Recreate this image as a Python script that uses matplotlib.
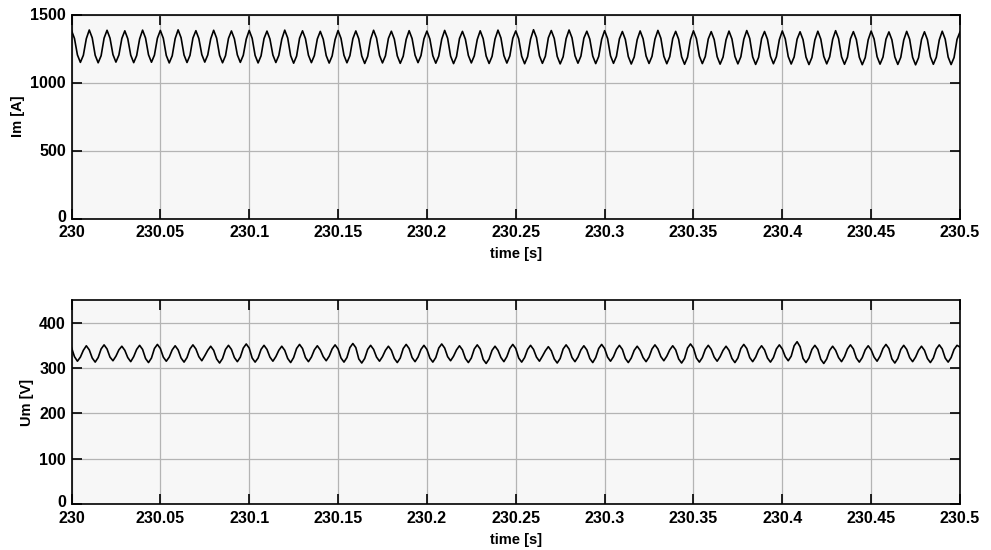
import numpy as np
import matplotlib
matplotlib.use("Agg")
import matplotlib.pyplot as plt
import matplotlib.transforms as mtransforms

plt.rcParams['font.family'] = ['Liberation Sans', 'DejaVu Sans']

im_values = [
    1382, 1324, 1203, 1148, 1200, 1322,
    1386, 1328, 1200, 1145, 1197, 1326,
    1384, 1326, 1205, 1150, 1202, 1324,
    1380, 1322, 1201, 1146, 1198, 1320,
    1385, 1327, 1204, 1149, 1201, 1325,
    1383, 1325, 1199, 1144, 1196, 1323,
    1387, 1329, 1202, 1147, 1199, 1327,
    1381, 1323, 1205, 1150, 1202, 1321,
    1384, 1326, 1200, 1145, 1197, 1324,
    1379, 1321, 1203, 1148, 1200, 1319,
    1383, 1325, 1199, 1144, 1196, 1323,
    1378, 1320, 1202, 1147, 1199, 1318,
    1385, 1327, 1197, 1142, 1194, 1325,
    1380, 1322, 1201, 1146, 1198, 1320,
    1376, 1318, 1198, 1143, 1195, 1316,
    1382, 1324, 1200, 1145, 1197, 1322,
    1379, 1321, 1195, 1140, 1192, 1319,
    1384, 1326, 1199, 1144, 1196, 1324,
    1377, 1319, 1196, 1141, 1193, 1317,
    1381, 1323, 1201, 1146, 1198, 1321,
    1378, 1320, 1197, 1142, 1194, 1318,
    1383, 1325, 1194, 1139, 1191, 1323,
    1376, 1318, 1199, 1144, 1196, 1316,
    1380, 1322, 1195, 1140, 1192, 1320,
    1385, 1327, 1198, 1143, 1195, 1325,
    1379, 1321, 1193, 1138, 1190, 1319,
    1388, 1330, 1196, 1141, 1193, 1328,
    1382, 1324, 1192, 1137, 1189, 1322,
    1386, 1328, 1197, 1142, 1194, 1326,
    1377, 1319, 1194, 1139, 1191, 1317,
    1381, 1323, 1196, 1141, 1193, 1321,
    1375, 1317, 1191, 1136, 1188, 1315,
    1379, 1321, 1195, 1140, 1192, 1319,
    1383, 1325, 1193, 1138, 1190, 1323,
    1376, 1318, 1189, 1134, 1186, 1316,
    1380, 1322, 1194, 1139, 1191, 1320,
    1374, 1316, 1190, 1135, 1187, 1314,
    1378, 1320, 1192, 1137, 1189, 1318,
    1382, 1324, 1188, 1133, 1185, 1322,
    1375, 1317, 1193, 1138, 1190, 1315,
    1379, 1321, 1191, 1136, 1188, 1319,
    1373, 1315, 1187, 1132, 1184, 1313,
    1377, 1319, 1192, 1137, 1189, 1317,
    1381, 1323, 1189, 1134, 1186, 1321,
    1374, 1316, 1186, 1131, 1183, 1314,
    1378, 1320, 1190, 1135, 1187, 1318,
    1372, 1314, 1188, 1133, 1185, 1312,
    1376, 1318, 1185, 1130, 1182, 1316,
    1373, 1315, 1189, 1134, 1186, 1313,
    1377, 1319, 1187, 1132, 1184, 1317,
    1372,
]

um_values = [
    345, 325, 315, 324, 339, 349,
    340, 322, 313, 323, 342, 351,
    342, 324, 316, 326, 340, 348,
    339, 323, 314, 325, 341, 350,
    341, 321, 312, 322, 343, 352,
    343, 324, 315, 324, 340, 349,
    340, 322, 313, 323, 342, 351,
    342, 325, 316, 327, 339, 348,
    339, 320, 311, 321, 341, 350,
    341, 323, 314, 324, 344, 353,
    344, 322, 313, 322, 341, 350,
    341, 324, 315, 325, 339, 348,
    339, 321, 312, 323, 343, 352,
    343, 323, 314, 324, 340, 349,
    340, 325, 316, 326, 342, 351,
    342, 322, 313, 323, 345, 354,
    345, 320, 311, 321, 341, 350,
    341, 324, 315, 325, 339, 348,
    339, 321, 312, 322, 343, 352,
    343, 323, 314, 324, 341, 350,
    341, 322, 313, 323, 344, 353,
    344, 325, 316, 326, 340, 349,
    340, 321, 312, 322, 342, 351,
    342, 319, 310, 320, 339, 348,
    339, 323, 314, 325, 343, 352,
    343, 322, 313, 323, 341, 350,
    341, 324, 315, 326, 338, 347,
    338, 320, 311, 321, 342, 351,
    342, 323, 314, 324, 340, 349,
    340, 321, 312, 323, 343, 352,
    343, 324, 315, 325, 341, 350,
    341, 321, 312, 322, 339, 348,
    339, 323, 314, 324, 342, 351,
    342, 325, 316, 326, 340, 349,
    340, 320, 311, 321, 344, 353,
    344, 322, 313, 323, 341, 350,
    341, 324, 315, 325, 339, 348,
    339, 321, 312, 322, 343, 352,
    343, 323, 314, 324, 340, 349,
    340, 322, 313, 323, 342, 351,
    342, 325, 316, 326, 349, 358,
    347, 321, 312, 322, 341, 350,
    341, 319, 310, 320, 339, 348,
    339, 323, 314, 325, 342, 351,
    342, 322, 313, 323, 340, 349,
    340, 324, 315, 326, 343, 352,
    343, 320, 311, 321, 341, 350,
    341, 323, 314, 324, 339, 348,
    339, 321, 312, 322, 342, 351,
    342, 322, 313, 323, 341, 350,
    346,
]

t_start, t_end = 230.0, 230.5
time = np.linspace(t_start, t_end, len(im_values))

x_ticks = [230, 230.05, 230.1, 230.15, 230.2, 230.25, 230.3, 230.35, 230.4, 230.45, 230.5]
x_tick_labels = ['230', '230.05', '230.1', '230.15', '230.2', '230.25', '230.3',
                 '230.35', '230.4', '230.45', '230.5']
im_yticks = [0, 500, 1000, 1500]
um_yticks = [0, 100, 200, 300, 400]

fig = plt.figure(figsize=(9.91, 5.5), dpi=100)
ax1 = fig.add_axes([71.5/991, 1-218.5/550, (960-71.5)/991, (218.5-14.5)/550])
ax2 = fig.add_axes([71.5/991, 1-504/550, (960-71.5)/991, (504-300)/550])

def style(ax, yticks, ylim, ylabel):
    ax.set_facecolor('#f7f7f7')
    ax.set_xlim(t_start, t_end)
    ax.set_ylim(*ylim)
    ax.set_xticks(x_ticks)
    ax.set_xticklabels(x_tick_labels)
    ax.set_yticks(yticks)
    ax.grid(True, color='#b4b4b4', linewidth=0.9, linestyle='-')
    ax.set_axisbelow(True)
    ax.tick_params(direction='in', length=7, width=1.2, top=True, right=True,
                   labelsize=11.5, colors='black')
    ax.tick_params(axis='x', pad=5)
    ax.tick_params(axis='y', pad=4)
    for lab in ax.get_xticklabels() + ax.get_yticklabels():
        lab.set_fontweight('bold')
    # lift the "0" y label slightly, as in the reference
    zero_lab = ax.get_yticklabels()[0]
    zero_lab.set_transform(zero_lab.get_transform() +
                           mtransforms.ScaledTranslation(0, 3/100, fig.dpi_scale_trans))
    for s in ax.spines.values():
        s.set_linewidth(1.2)
        s.set_color('black')
    ax.set_xlabel('time [s]', fontsize=10.5, labelpad=5, fontweight='bold')
    ax.set_ylabel(ylabel, fontsize=10.5, labelpad=4, fontweight='bold')

ax1.plot(time, im_values, color='black', linewidth=1.2)
style(ax1, im_yticks, (0, 1500), 'Im [A]')

ax2.plot(time, um_values, color='black', linewidth=1.2)
style(ax2, um_yticks, (0, 450), 'Um [V]')

fig.savefig('out.png', dpi=100)
